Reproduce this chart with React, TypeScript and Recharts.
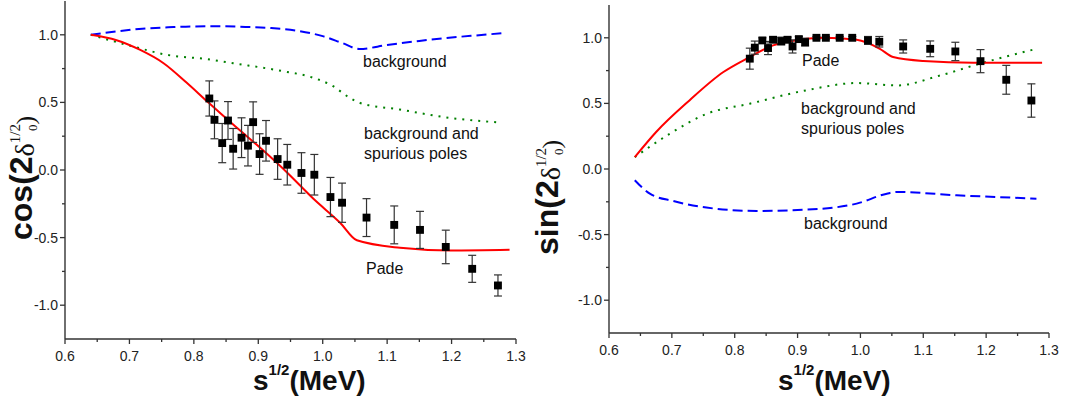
import React from 'react';
import { ComposedChart, Line, Scatter, ErrorBar, XAxis, YAxis, ZAxis } from 'recharts';

// Measured phase-shift points (shared energies)
const energies = [0.824, 0.832, 0.844, 0.853, 0.861, 0.874, 0.884, 0.892, 0.902, 0.912, 0.93, 0.945, 0.967, 0.987, 1.012, 1.03, 1.068, 1.111, 1.151, 1.191, 1.232, 1.272];
const cosValues = [0.529, 0.371, 0.199, 0.366, 0.157, 0.239, 0.18, 0.354, 0.118, 0.216, 0.081, 0.039, -0.022, -0.035, -0.2, -0.242, -0.352, -0.406, -0.443, -0.569, -0.731, -0.854];
const cosErrors = [0.13, 0.14, 0.145, 0.14, 0.15, 0.147, 0.15, 0.15, 0.15, 0.15, 0.15, 0.15, 0.15, 0.15, 0.145, 0.145, 0.14, 0.14, 0.137, 0.124, 0.1, 0.078];
const sinValues = [0.841, 0.925, 0.98, 0.922, 0.985, 0.975, 0.985, 0.934, 0.99, 0.967, 1.0, 1.0, 1.0, 1.0, 0.98, 0.97, 0.934, 0.916, 0.896, 0.822, 0.68, 0.522];
const sinErrors = [0.08, 0.05, 0.02, 0.05, 0.02, 0.03, 0.02, 0.05, 0.02, 0.03, 0.01, 0.01, 0.01, 0.01, 0.03, 0.04, 0.05, 0.06, 0.07, 0.088, 0.11, 0.127];

// Pade curves
const padeCosX = [0.64, 0.68, 0.716, 0.753, 0.789, 0.82, 0.861, 0.903, 0.945, 0.986, 1.027, 1.053, 1.12, 1.198, 1.29];
const padeCosY = [1.0, 0.96, 0.89, 0.79, 0.645, 0.51, 0.336, 0.164, -0.02, -0.215, -0.39, -0.52, -0.575, -0.595, -0.59];
const padeSinX = [0.641, 0.675, 0.728, 0.782, 0.819, 0.861, 0.904, 0.941, 0.994, 1.031, 1.052, 1.1, 1.18, 1.289];
const padeSinY = [0.09, 0.282, 0.523, 0.739, 0.841, 0.942, 0.985, 1.0, 0.985, 0.916, 0.853, 0.823, 0.81, 0.81];

// Background only
const bgCosX = [0.64, 0.68, 0.72, 0.76, 0.8, 0.84, 0.88, 0.92, 0.96, 1.0, 1.03, 1.057, 1.1, 1.15, 1.2, 1.25, 1.285];
const bgCosY = [1.0, 1.025, 1.045, 1.055, 1.062, 1.063, 1.058, 1.05, 1.03, 0.99, 0.94, 0.895, 0.925, 0.955, 0.98, 1.0, 1.015];
const bgSinX = [0.641, 0.665, 0.702, 0.755, 0.835, 0.914, 0.994, 1.042, 1.058, 1.153, 1.28];
const bgSinY = [-0.086, -0.188, -0.244, -0.294, -0.32, -0.31, -0.264, -0.188, -0.175, -0.2, -0.226];

// Background and spurious poles
const spCosX = [0.64, 0.706, 0.758, 0.82, 0.861, 0.939, 0.98, 1.016, 1.04, 1.058, 1.12, 1.198, 1.27];
const spCosY = [1.0, 0.913, 0.852, 0.82, 0.79, 0.73, 0.69, 0.62, 0.54, 0.496, 0.447, 0.385, 0.353];
const spSinX = [0.641, 0.697, 0.755, 0.824, 0.914, 0.994, 1.058, 1.127, 1.19, 1.281];
const spSinY = [0.09, 0.27, 0.42, 0.498, 0.6, 0.655, 0.637, 0.713, 0.803, 0.917];

// Axis ticks (majors carry labels)
const xTicks = [0.6, 0.65, 0.7, 0.75, 0.8, 0.85, 0.9, 0.95, 1.0, 1.05, 1.1, 1.15, 1.2, 1.25, 1.3];
const yTicks = [-1.0, -0.75, -0.5, -0.25, 0, 0.25, 0.5, 0.75, 1.0];

const zip = (xs: number[], ys: number[]) => xs.map((x, i) => ({ x, y: ys[i] }));
const points = (ys: number[], errs: number[]) => energies.map((x, i) => ({ x, y: ys[i], err: errs[i] }));

const SANS = 'Arial, "Liberation Sans", sans-serif';
const SERIF = '"Liberation Serif", "Times New Roman", serif';
const AXIS = '#333';

const isMultiple = (v: number, step: number) => Math.abs(Math.round(v / step) * step - v) < 1e-6;

const XTick = (props: any) => {
  const { x, y, payload } = props;
  const v = payload.value as number;
  const major = isMultiple(v, 0.1);
  return (
    <g>
      <line x1={x} x2={x} y1={y} y2={y + (major ? 5 : 3)} stroke={AXIS} strokeWidth={1.3} />
      {major && (
        <text x={x} y={y + 22} textAnchor="middle" fontSize={14} fontFamily={SANS} fill="#222">
          {v.toFixed(1)}
        </text>
      )}
    </g>
  );
};

const YTick = (props: any) => {
  const { x, y, payload } = props;
  const v = payload.value as number;
  const major = isMultiple(v, 0.5);
  return (
    <g>
      <line x1={x} x2={x - (major ? 5 : 3)} y1={y} y2={y} stroke={AXIS} strokeWidth={1.3} />
      {major && (
        <text x={x - 7} y={y + 5} textAnchor="end" fontSize={14} fontFamily={SANS} fill="#222">
          {Math.abs(v) < 1e-9 ? '0.0' : v.toFixed(1)}
        </text>
      )}
    </g>
  );
};

type PanelProps = {
  pade: { x: number; y: number }[];
  bg: { x: number; y: number }[];
  sp: { x: number; y: number }[];
  pts: { x: number; y: number; err: number }[];
  margin: { top: number; right: number; bottom: number; left: number };
};

const Panel = ({ pade, bg, sp, pts, margin }: PanelProps) => (
  <ComposedChart width={534} height={400} margin={margin}>
    <XAxis
      type="number"
      dataKey="x"
      domain={[0.6, 1.3]}
      ticks={xTicks}
      interval={0}
      height={1}
      tickSize={0}
      tickMargin={0}
      tickLine={false}
      tick={<XTick />}
      axisLine={{ stroke: AXIS, strokeWidth: 1.4 }}
      allowDataOverflow
    />
    <YAxis
      type="number"
      dataKey="y"
      domain={[-1.25, 1.25]}
      ticks={yTicks}
      interval={0}
      width={1}
      tickSize={0}
      tickMargin={0}
      tickLine={false}
      tick={<YTick />}
      axisLine={{ stroke: AXIS, strokeWidth: 1.4 }}
      allowDataOverflow
    />
    <ZAxis range={[62, 62]} />
    <Line data={bg} dataKey="y" type="monotone" stroke="#0000ff" strokeWidth={2} strokeDasharray="10 5" dot={false} isAnimationActive={false} />
    <Line data={sp} dataKey="y" type="monotone" stroke="#008000" strokeWidth={2} strokeDasharray="2 6" dot={false} isAnimationActive={false} />
    <Line data={pade} dataKey="y" type="monotone" stroke="#ff0000" strokeWidth={2} dot={false} isAnimationActive={false} />
    <Scatter data={pts} dataKey="y" fill="#000" shape="square" isAnimationActive={false}>
      <ErrorBar dataKey="err" direction="y" width={4} stroke="#333" strokeWidth={1.2} isAnimationActive={false} />
    </Scatter>
  </ComposedChart>
);

const note = { fontSize: 16, fontFamily: SANS, fill: '#111' } as const;

const YTitle = ({ fn, x, y }: { fn: string; x: number; y: number }) => (
  <text transform={`translate(${x},${y}) rotate(-90)`} fontSize={32} fontWeight="bold" fontFamily={SANS} fill="#111">
    {fn}(2
    <tspan fontFamily={SERIF} fontWeight="normal" fontSize={28} dy={2}>δ</tspan>
    <tspan fontFamily={SERIF} fontWeight="normal" fontSize={15} dy={-14}>1/2</tspan>
    <tspan fontFamily={SERIF} fontWeight="normal" fontSize={13} dx={-7} dy={17}>0</tspan>
    <tspan fontFamily={SERIF} fontWeight="normal" fontSize={26} dy={-3}>)</tspan>
  </text>
);

export default function App() {
  return (
    <div style={{ position: 'absolute', left: 0, top: 0, width: 1068, height: 400, background: '#fff' }}>
      <div style={{ position: 'absolute', left: 0, top: 0 }}>
        <Panel
          pade={zip(padeCosX, padeCosY)}
          bg={zip(bgCosX, bgCosY)}
          sp={zip(spCosX, spCosY)}
          pts={points(cosValues, cosErrors)}
          margin={{ top: 1, right: 18, bottom: 60, left: 64 }}
        />
      </div>
      <div style={{ position: 'absolute', left: 534, top: 0 }}>
        <Panel
          pade={zip(padeSinX, padeSinY)}
          bg={zip(bgSinX, bgSinY)}
          sp={zip(spSinX, spSinY)}
          pts={points(sinValues, sinErrors)}
          margin={{ top: 5, right: 19, bottom: 66, left: 74 }}
        />
      </div>
      <svg width={1068} height={400} style={{ position: 'absolute', left: 0, top: 0, pointerEvents: 'none' }}>
        {/* curve annotations */}
        <text x={363} y={67} {...note}>background</text>
        <text x={364} y={139} {...note}>background and</text>
        <text x={364} y={159} {...note}>spurious poles</text>
        <text x={366} y={274} {...note}>Pade</text>
        <text x={802} y={66} {...note}>Pade</text>
        <text x={801} y={114} {...note}>background and</text>
        <text x={801} y={134} {...note}>spurious poles</text>
        <text x={804} y={229} {...note}>background</text>

        {/* axis titles */}
        <text x={253} y={390} fontSize={28} fontWeight="bold" fontFamily={SANS} fill="#111">
          s<tspan fontSize={15} dy={-15}>1/2</tspan><tspan fontSize={28} dy={15}>(MeV)</tspan>
        </text>
        <text x={778} y={390} fontSize={28} fontWeight="bold" fontFamily={SANS} fill="#111">
          s<tspan fontSize={15} dy={-15}>1/2</tspan><tspan fontSize={28} dy={15}>(MeV)</tspan>
        </text>
        <YTitle fn="cos" x={32} y={240} />
        <YTitle fn="sin" x={558} y={255} />
      </svg>
    </div>
  );
}
